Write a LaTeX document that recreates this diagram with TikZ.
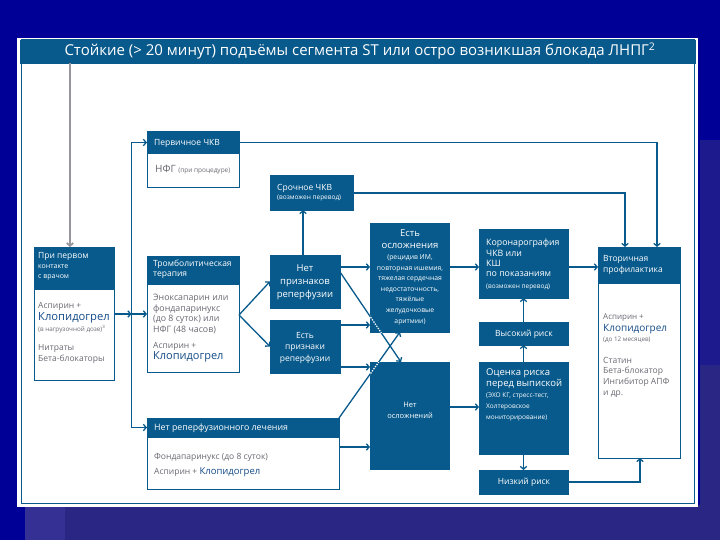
\documentclass[tikz,border=0pt]{standalone}
\usepackage{fontspec}
\setmainfont{Open Sans}
\usetikzlibrary{arrows.meta}
\definecolor{tealc}{RGB}{8,90,140}
\definecolor{navybg}{RGB}{0,0,150}
\definecolor{bgpurp}{RGB}{42,38,132}
\definecolor{bgstripe}{RGB}{52,48,148}
\definecolor{bgmid}{RGB}{28,26,140}
\definecolor{graytxt}{RGB}{105,105,115}
\definecolor{bluetxt}{RGB}{20,75,135}
\definecolor{grayarr}{RGB}{150,150,158}
\newcommand\mkbox[6]{\node[#1, minimum width={(#5-#3)*1pt}, minimum height={(#6-#4)*1pt}] (#2) at (#3,#4) {};}
\newcommand\fsz[2]{\fontsize{#1}{#2}\selectfont}
\begin{document}
\begin{tikzpicture}[x=1pt, y=-1pt,
 hdr/.style={fill=tealc, draw=tealc, line width=0.8pt, inner sep=0pt, outer sep=0pt, anchor=north west},
 bdy/.style={fill=white, draw=tealc, line width=1pt, inner sep=0pt, outer sep=0pt, anchor=north west},
 wl/.style={text=white, inner sep=0pt, anchor=north west, align=left},
 wc/.style={text=white, inner sep=0pt, anchor=north, align=center},
 gl/.style={text=graytxt, inner sep=0pt, anchor=north west, align=left},
 bl/.style={text=bluetxt, inner sep=0pt, anchor=north west, align=left},
 ln/.style={draw=tealc, line width=1.3pt},
 arr/.style={ln, -{Straight Barb[length=2.8pt,width=6.5pt]}},
 dots/.style={draw=white, line width=1.3pt, dash pattern=on 1.3pt off 1.3pt}]
\useasboundingbox (0,0) rectangle (720,540);
% background
\fill[navybg] (0,0) rectangle (720,540);
\fill[bgmid] (700,140) rectangle (720,365);
\fill[bgpurp] (700,365) rectangle (720,540);
\fill[bgpurp] (25,505) rectangle (720,540);
\fill[bgstripe] (25,505) rectangle (65,540);
% panel
\fill[white] (17,38) rectangle (698,507);
\draw[tealc, line width=1pt] (21,40) rectangle (694,503);
\mkbox{hdr}{tbar}{20}{40}{695}{63}
\node[text=white, inner sep=0pt, font=\fsz{15}{17}] (ttl) at (360,51) {Стойкие (> 20 минут) подъёмы сегмента ST или остро возникшая блокада ЛНПГ\textsuperscript{2}};
% boxes
\mkbox{hdr}{pkh}{34}{247}{114}{289}
\mkbox{bdy}{pkb}{34}{289}{114}{380}
\mkbox{hdr}{pchh}{147}{131}{239}{154}
\mkbox{bdy}{pchb}{147}{154}{239}{188}
\mkbox{hdr}{srch}{270}{175}{353}{210}
\mkbox{hdr}{trh}{147}{256}{239}{284}
\mkbox{bdy}{trb}{147}{284}{239}{372}
\mkbox{hdr}{npr}{270}{255}{340}{308}
\mkbox{hdr}{epr}{270}{320}{340}{373}
\mkbox{hdr}{esl}{370}{223}{449}{332}
\mkbox{hdr}{nsl}{370}{362}{449}{469}
\mkbox{hdr}{nrlh}{147}{418}{339}{437}
\mkbox{bdy}{nrlb}{147}{437}{339}{489}
\mkbox{hdr}{koro}{479}{229}{568}{298}
\mkbox{hdr}{vr}{479}{322}{568}{345}
\mkbox{hdr}{ocr}{479}{362}{568}{454}
\mkbox{hdr}{nr}{479}{470}{568}{494}
\mkbox{hdr}{vtorh}{598}{247}{680}{283}
\mkbox{bdy}{vtorb}{598}{283}{680}{458}
% texts
\node[wl, font=\fsz{8.5}{10}] (pkh1) at (38,251.8) {При первом};
\node[wl, font=\fsz{7}{10}] (pkh2) at (38,264.3) {контакте\\с врачом};
\node[gl, font=\fsz{8.5}{10}] (pkb1) at (38,301.8) {Аспирин +};
\node[bl, font=\fsz{11.2}{12}] (pkb2) at (38,312.6) {Клопидогрел};
\node[gl, font=\fsz{6.3}{8}] (pkb3) at (38,325.6) {(в нагрузочной дозе)\textsuperscript{3}};
\node[gl, font=\fsz{8.5}{11}] (pkb4) at (38,343.8) {Нитраты\\Бета-блокаторы};
\node[wl, font=\fsz{8.5}{10}] (trh1) at (153,259.8) {Тромболитическая\\терапия};
\node[gl, font=\fsz{8.8}{10.8}] (trb1) at (153,293.7) {Эноксапарин или\\фондапаринукс\\(до 8 суток) или\\НФГ (48 часов)};
\node[gl, font=\fsz{8.5}{10}] (trb2) at (153,341.8) {Аспирин +};
\node[bl, font=\fsz{11}{12}] (trb3) at (153,351.8) {Клопидогрел};
\node[wl, font=\fsz{8.5}{10}] (pchh1) at (154,138.8) {Первичное ЧКВ};
\node[gl, font=\fsz{10}{12}] (pchb1) at (155,165.2) {НФГ {\fsz{6.5}{8}(при процедуре)}};
\node[wl, font=\fsz{8.5}{10}] (srch1) at (277,183.8) {Срочное ЧКВ};
\node[wl, font=\fsz{6.5}{8}] (srch2) at (277,194.5) {(возможен перевод)};
\node[wc, font=\fsz{9.5}{13}] (npr1) at (305,264.4) {Нет\\признаков\\реперфузии};
\node[wc, font=\fsz{8.5}{11.5}] (epr1) at (305,331.8) {Есть\\признаки\\реперфузии};
\node[wc, font=\fsz{9.5}{12}] (esl1) at (410,229.4) {Есть\\осложнения};
\node[wc, font=\fsz{6.8}{10.6}] (esl2) at (410,254.4) {(рецидив ИМ,\\повторная ишемия,\\тяжелая сердечная\\недостаточность,\\тяжёлые\\желудочковые\\аритмии)};
\node[wc, font=\fsz{7.5}{11}] (nsl1) at (410,402) {Нет\\осложнений};
\node[wl, font=\fsz{8.8}{10}] (nrlh1) at (154,423.7) {Нет реперфузионного лечения};
\node[gl, font=\fsz{8.5}{10}] (nrlb1) at (154,452.8) {Фондапаринукс (до 8 суток)};
\node[gl, font=\fsz{8.5}{10}] (nrlb2) at (154,467.5) {Аспирин + {\color{bluetxt}\fsz{9.5}{11}Клопидогрел}};
\node[wl, font=\fsz{8.8}{10.6}] (koro1) at (486,238.6) {Коронарография\\ЧКВ или\\КШ};
\node[wl, font=\fsz{8.8}{10}] (koro2) at (486,271.8) {по показаниям};
\node[wl, font=\fsz{6.5}{8}] (koro3) at (486,283.5) {(возможен перевод)};
\node[text=white, inner sep=0pt, font=\fsz{8.5}{10}] (vr1) at (524,334) {Высокий риск};
\node[wl, font=\fsz{9.5}{11}] (ocr1) at (486,368.4) {Оценка риска\\перед выпиской};
\node[wl, font=\fsz{6.5}{11}] (ocr2) at (486,392.5) {(ЭХО КГ, стресс-тест,\\Холтеровское\\мониторирование)};
\node[text=white, inner sep=0pt, font=\fsz{8.5}{10}] (nr1) at (524,482) {Низкий риск};
\node[wl, font=\fsz{8.5}{11}] (vtorh1) at (603,254.8) {Вторичная\\профилактика};
\node[gl, font=\fsz{8}{10}] (vtorb1) at (603,314) {Аспирин +};
\node[bl, font=\fsz{10}{12}] (vtorb2) at (603,324.2) {Клопидогрел};
\node[gl, font=\fsz{6.3}{8}] (vtorb3) at (603,336.6) {(до 12 месяцев)};
\node[gl, font=\fsz{8.5}{10.7}] (vtorb4) at (603,356.8) {Статин\\Бета-блокатор\\Ингибитор АПФ\\и др.};
% helper coordinates
\coordinate (bus) at (131.5,142.5);
\coordinate (busB) at (131.5,427.5);
\coordinate (L314) at (0,314);
\coordinate (L315) at (0,315);
\coordinate (L267) at (0,267);
\coordinate (L272) at (0,272);
\coordinate (L325) at (0,325);
\coordinate (L367) at (0,367);
\coordinate (L447) at (0,447);
\coordinate (L407) at (0,407);
\coordinate (L193) at (0,193);
\coordinate (X70) at (70,0);
\coordinate (X303) at (303,0);
\coordinate (X400) at (400,0);
\coordinate (X401) at (401,0);
\coordinate (X625) at (625,0);
\coordinate (X640) at (640,0);
\coordinate (X657) at (657,0);
% connectors
\draw[grayarr, line width=1.8pt, -{Straight Barb[length=2.8pt,width=6.5pt]}] (tbar.south -| X70) -- (pkh.north -| X70);
\draw[arr] (busB) -- (bus) -- (pchh.west);
\draw[arr] (busB) -- (nrlh.west);
\draw[arr] (pkb.east |- L314) -- (bus |- L314);
\draw[arr] (bus |- L314) -- (trb.west |- L314);
\draw[arr] (trb.east |- L315) -- (npr.west);
\draw[arr] (trb.east |- L315) -- (epr.west);
\draw[arr] (npr.north -| X303) -- (srch.south -| X303);
\draw[arr] (npr.east |- L267) -- (esl.west |- L267);
\draw[arr] (npr.east |- L272) -- (nsl.north -| X401);
\draw[arr] (epr.east |- L325) -- (esl.west |- L325);
\draw[arr] (epr.east |- L367) -- (nsl.west |- L367);
\draw[arr] (nrlh.north east) -- (esl.south -| X400);
\draw[arr] (nrlb.east |- L447) -- (nsl.west |- L447);
\draw[arr] (esl.east |- L267) -- (koro.west |- L267);
\draw[arr] (nsl.east |- L407) -- (ocr.west |- L407);
\draw[arr] (koro.east |- L267) -- (vtorh.west |- L267);
\draw[arr] (vr.north) -- (koro.south);
\draw[arr] (ocr.north) -- (vr.south);
\draw[arr] (ocr.south) -- (nr.north);
\draw[arr] (nr.east) -- (X640 |- nr.east) -- (vtorb.south -| X640);
\draw[arr] (pchh.east) -- (X657 |- pchh.east) -- (vtorh.north -| X657);
\draw[arr] (srch.east |- L193) -- (X625 |- L193) -- (vtorh.north -| X625);
% dotted parts over the blue boxes
\begin{scope}
\clip (esl.north west) rectangle (esl.south east);
\draw[dots] (npr.east |- L272) -- (nsl.north -| X401);
\end{scope}
\begin{scope}
\clip (nsl.north west) rectangle (nsl.south east);
\draw[dots] (nrlh.north east) -- (esl.south -| X400);
\end{scope}
\end{tikzpicture}
\end{document}
